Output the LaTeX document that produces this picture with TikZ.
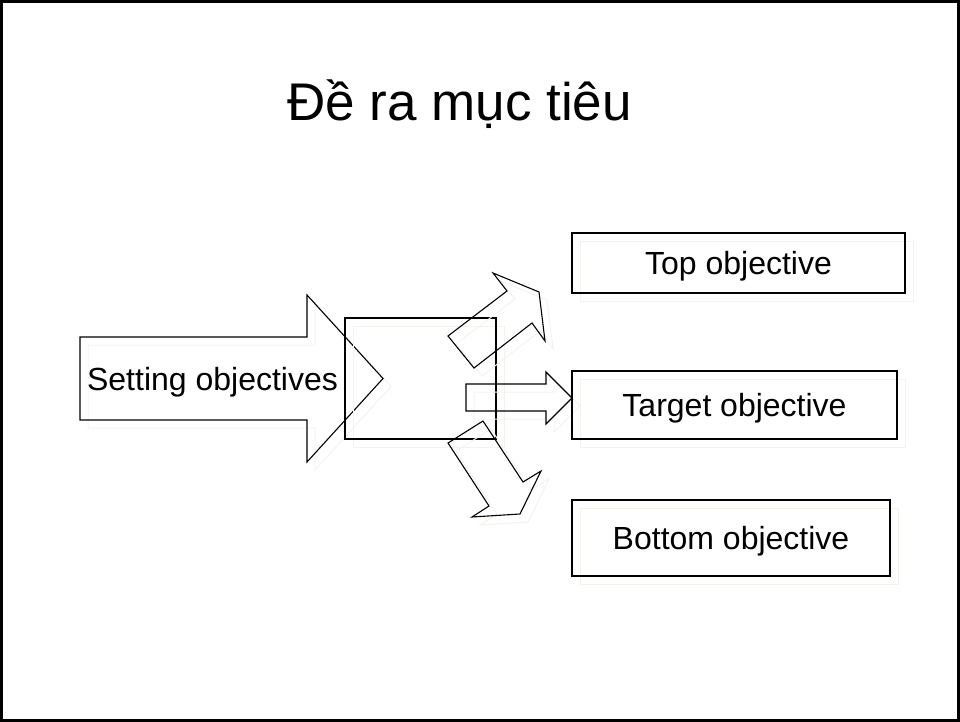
\documentclass[tikz,border=0pt]{standalone}
\usepackage{fontspec}
\setmainfont{Liberation Sans}
\usepackage{xcolor}

\definecolor{shadowgray}{HTML}{F3F3EC}

\tikzset{
  outline/.style={draw=black, line width=1.1pt, line join=miter},
  shade copy/.style={preaction={draw=shadowgray, line width=1pt,
      transform canvas={shift={(8pt,-8pt)}}}},
  objtext/.style={font=\fontsize{32}{38}\selectfont, text depth=0pt},
  objbox/.style={outline, shade copy, rectangle, inner sep=0pt, objtext},
}

\begin{document}
\begin{tikzpicture}[x=1pt, y=-1pt]
  \useasboundingbox (0,0) rectangle (960,722);
  % frame of the slide
  \draw[line width=3pt] (1.5,1.5) rectangle (958.5,720.5);

  \node[anchor=base, font=\fontsize{53}{60}\selectfont] (title) at (459.5,121) {Đề ra mục tiêu};

  % big arrow
  \draw[outline, shade copy] (80,337) -- (307,337) -- (307,295) -- (383,378.5)
    -- (307,462) -- (307,420) -- (80,420) -- cycle;
  \node[objtext] (setting) at (212.5,378.5) {Setting objectives};

  % box in the middle
  \node[objbox, minimum width=151pt, minimum height=121pt] (hub) at (420.5,378.5) {};

  % three small arrows
  \draw[outline, shade copy] (448,336) -- (507,291) -- (493,273) -- (539,292)
    -- (545,341) -- (532,323) -- (474,368) -- cycle;
  \draw[outline, shade copy] (466,384) -- (546,384) -- (546,372) -- (572,398)
    -- (546,424) -- (546,411) -- (466,411) -- cycle;
  \draw[outline, shade copy] (448,443) -- (483,421) -- (523,482) -- (541,471)
    -- (520,514) -- (472,517) -- (489,506) -- cycle;

  \node[objbox, minimum width=333pt, minimum height=60pt] (top) at (738.5,263) {Top objective};
  \node[objbox, minimum width=325pt, minimum height=68pt] (target) at (734.5,405) {Target objective};
  \node[objbox, minimum width=318pt, minimum height=76pt] (bottom) at (731,538) {Bottom objective};
\end{tikzpicture}
\end{document}
